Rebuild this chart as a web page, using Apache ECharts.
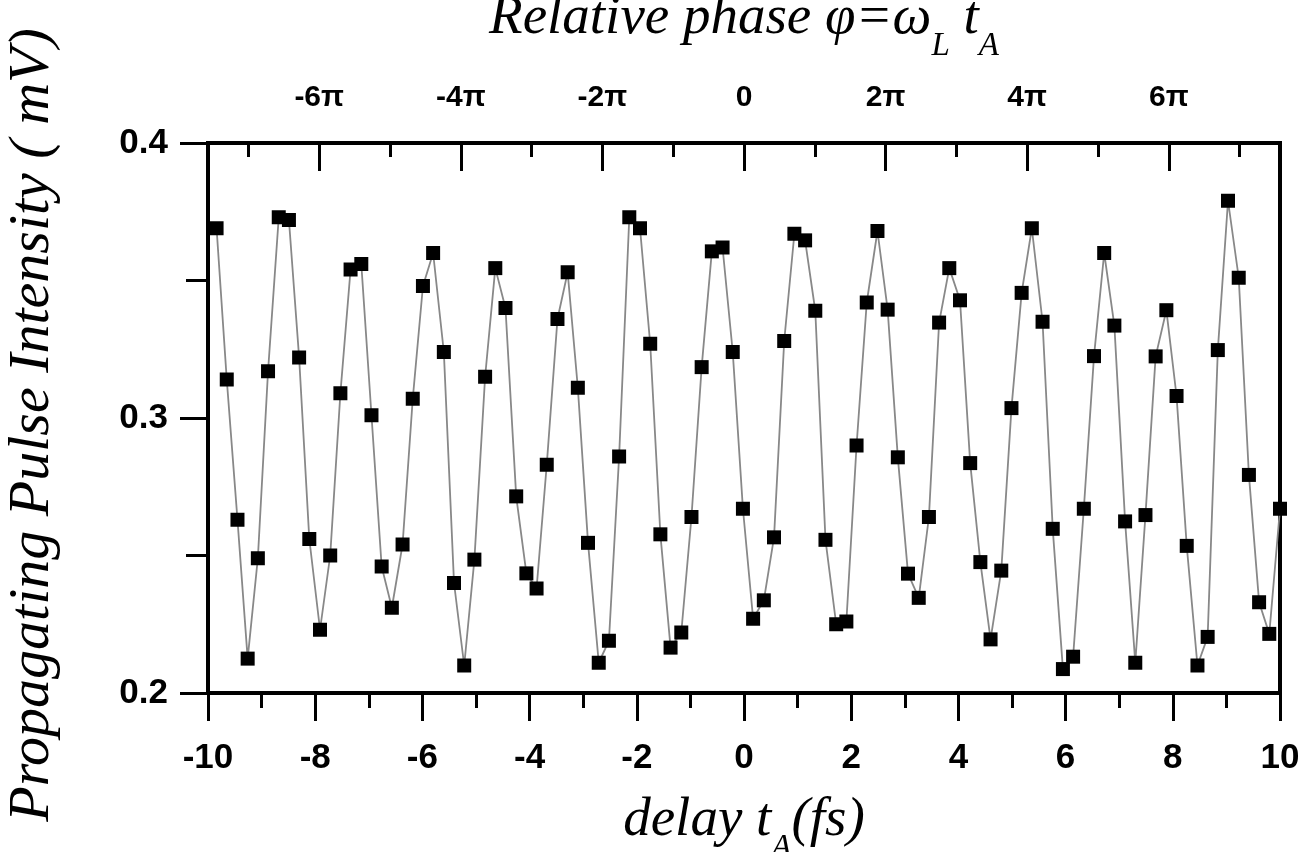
<!DOCTYPE html>
<html><head><meta charset="utf-8">
<script src="https://cdn.jsdelivr.net/npm/echarts@6/dist/echarts.min.js"></script>
<style>html,body{margin:0;padding:0;background:#fff}#c{width:1301px;height:852px}</style>
</head><body><div id="c"></div>
<script>
// delay t_A in fs
const delay = [
 -9.84,-9.65,-9.45,-9.26,-9.07,-8.88,-8.68,-8.49,-8.30,-8.11,
 -7.91,-7.72,-7.53,-7.34,-7.14,-6.95,-6.76,-6.57,-6.37,-6.18,
 -5.99,-5.80,-5.60,-5.41,-5.22,-5.03,-4.83,-4.64,-4.45,-4.25,
 -4.06,-3.87,-3.68,-3.48,-3.29,-3.10,-2.91,-2.71,-2.52,-2.33,
 -2.14,-1.94,-1.75,-1.56,-1.37,-1.17,-0.98,-0.79,-0.60,-0.40,
 -0.21,-0.02,0.17,0.37,0.56,0.75,0.94,1.14,1.33,1.52,
 1.72,1.91,2.10,2.29,2.49,2.68,2.87,3.06,3.26,3.45,
 3.64,3.83,4.03,4.22,4.41,4.60,4.80,4.99,5.18,5.37,
 5.57,5.76,5.95,6.14,6.34,6.53,6.72,6.91,7.11,7.30,
 7.49,7.68,7.88,8.07,8.26,8.46,8.65,8.84,9.03,9.23,
 9.42,9.61,9.80,10.00
];
// propagating pulse intensity in mV
const intensity = [
 0.369,0.314,0.263,0.2125,0.249,0.317,0.373,0.372,0.322,0.256,
 0.223,0.250,0.309,0.354,0.356,0.301,0.246,0.231,0.254,0.307,
 0.348,0.360,0.324,0.240,0.210,0.2485,0.315,0.3545,0.340,0.2715,
 0.2435,0.238,0.283,0.336,0.353,0.311,0.2546,0.211,0.219,0.286,
 0.373,0.369,0.327,0.2577,0.2165,0.222,0.264,0.3185,0.3606,0.362,
 0.324,0.267,0.227,0.2337,0.2566,0.328,0.367,0.3646,0.339,0.2557,
 0.225,0.226,0.290,0.342,0.368,0.3394,0.2857,0.2434,0.2346,0.264,
 0.3347,0.3545,0.3428,0.2836,0.2476,0.2195,0.2445,0.3036,0.3455,0.369,
 0.335,0.2597,0.2087,0.2132,0.267,0.3225,0.360,0.3336,0.2624,0.211,
 0.2647,0.3224,0.3392,0.308,0.2535,0.210,0.2204,0.3247,0.379,0.351,
 0.2793,0.233,0.2215,0.267
];
// top axis: relative phase in units of pi (labelled every 2 pi)
const phaseLabelValues = [-6,-4,-2,0,2,4,6];
const phaseLabelText = ['-6π','-4π','-2π','0','2π','4π','6π'];

const chart = echarts.init(document.getElementById('c'), null, {renderer:'canvas'});
const tickFont = {color:'#000', fontFamily:'Liberation Sans, Arial, sans-serif', fontWeight:'bold', fontSize:35};
const serifI = {fontFamily:'Liberation Serif, Times New Roman, serif', fontStyle:'italic', color:'#000'};
const PI_PX = 70.8, ZERO_X = 744;
const noZero = {onZero:false};

chart.setOption({
  animation:false,
  backgroundColor:'#fff',
  grid:[
    {left:208, top:143, width:1072, height:550, outerBoundsMode:'none', containLabel:false,
     show:true, borderColor:'#000', borderWidth:4, backgroundColor:'transparent'},
    {left:ZERO_X-7*PI_PX, top:143, width:14*PI_PX, height:550, outerBoundsMode:'none', containLabel:false},
    {left:ZERO_X-6*PI_PX, top:143, width:12*PI_PX, height:550, outerBoundsMode:'none', containLabel:false}
  ],
  xAxis:[
    {gridIndex:0, type:'value', min:-10, max:10, interval:2, position:'bottom',
     axisLine:{onZero:false, lineStyle:{color:'#000', width:4}},
     axisTick:{length:28, lineStyle:{color:'#000', width:3}},
     minorTick:{show:true, splitNumber:2, length:15, lineStyle:{color:'#000', width:3}},
     splitLine:{show:false}, minorSplitLine:{show:false},
     axisLabel:Object.assign({margin:48}, tickFont),
     name:'{i|delay t}{s|A}{i|(fs)}', nameLocation:'middle', nameGap:100,
     nameTextStyle:{rich:{
       i:Object.assign({fontSize:55, lineHeight:56, verticalAlign:'top'}, serifI),
       s:Object.assign({fontSize:33, lineHeight:72, verticalAlign:'bottom'}, serifI)
     }}
    },
    {gridIndex:1, type:'value', min:-7, max:7, interval:1, position:'top',
     axisLine:{show:false, onZero:false},
     axisTick:{inside:true, length:14, lineStyle:{color:'#000', width:3}},
     axisLabel:{show:false}, splitLine:{show:false}
    },
    {gridIndex:2, type:'value', min:-6, max:6, interval:2, position:'top',
     axisLine:{show:false, onZero:false},
     axisTick:{inside:true, length:28, lineStyle:{color:'#000', width:3}},
     axisLabel:Object.assign({margin:30, fontSize:30, formatter:function(v){
        const k = phaseLabelValues.indexOf(v); return k>=0 ? phaseLabelText[k] : '';
     }}, {color:'#000', fontFamily:'Liberation Sans, Arial, sans-serif', fontWeight:'bold'}),
     splitLine:{show:false},
     name:'{i|Relative phase φ=ω}{s|L}{i| t}{s|A}', nameLocation:'middle', nameGap:80,
     nameTextStyle:{rich:{
       i:Object.assign({fontSize:55, lineHeight:56, verticalAlign:'top'}, serifI),
       s:Object.assign({fontSize:33, lineHeight:72, verticalAlign:'bottom'}, serifI)
     }}
    }
  ],
  yAxis:[
    {gridIndex:0, type:'value', min:0.2, max:0.4, interval:0.1,
     axisLine:{onZero:false, lineStyle:{color:'#000', width:4}},
     axisTick:{length:28, lineStyle:{color:'#000', width:3}},
     minorTick:{show:true, splitNumber:2, length:22, lineStyle:{color:'#000', width:3}},
     splitLine:{show:false}, minorSplitLine:{show:false},
     axisLabel:Object.assign({margin:40, formatter:function(v){return v.toFixed(1);}}, tickFont),
     name:'Propagating Pulse Intensity ( mV)', nameLocation:'middle', nameGap:146, nameRotate:90,
     nameTextStyle:Object.assign({fontSize:58, padding:[0,14,0,0]}, serifI)
    },
    {gridIndex:1, type:'value', show:false, axisLine:noZero},
    {gridIndex:2, type:'value', show:false, axisLine:noZero}
  ],
  series:[{
    type:'line', xAxisIndex:0, yAxisIndex:0,
    data: delay.map(function(d,i){return [d, intensity[i]];}),
    symbol:'rect', symbolSize:14, showSymbol:true,
    itemStyle:{color:'#000'},
    lineStyle:{color:'#888888', width:1.8},
    z:3
  }]
});
</script></body></html>
